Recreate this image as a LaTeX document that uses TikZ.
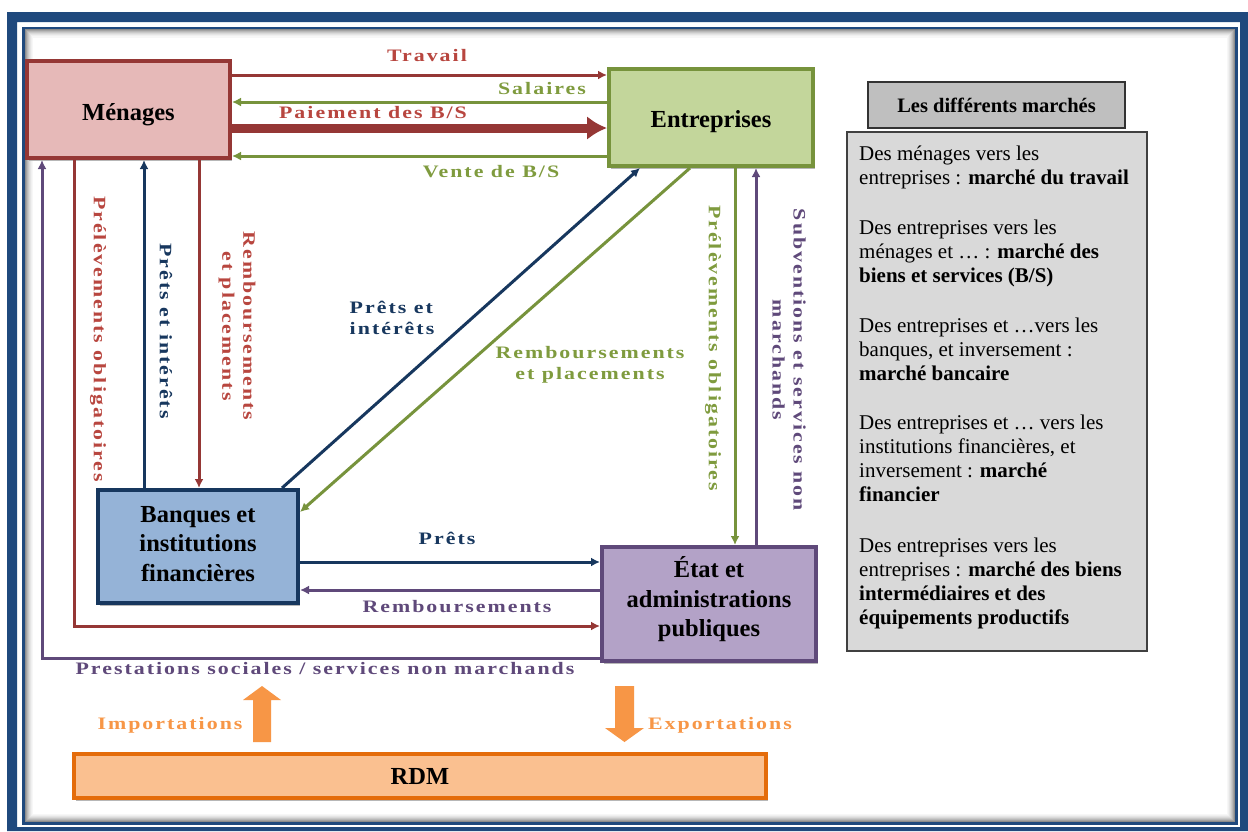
\documentclass[tikz,border=0pt]{standalone}
\usepackage{fontspec}
\setmainfont{Liberation Serif}
\newfontfamily\lblfont[FakeStretch=1.25,LetterSpace=11.5]{Liberation Serif Bold}
\usetikzlibrary{arrows.meta,shadows}
\definecolor{mred}{HTML}{953735}
\definecolor{mredfill}{HTML}{E6B9B8}
\definecolor{lred}{HTML}{B8463F}
\definecolor{egreen}{HTML}{77933C}
\definecolor{egreenfill}{HTML}{C3D69B}
\definecolor{lgreen}{HTML}{7F9B3E}
\definecolor{bnavy}{HTML}{17375E}
\definecolor{bfill}{HTML}{95B3D7}
\definecolor{epurple}{HTML}{5F497A}
\definecolor{efill}{HTML}{B3A2C7}
\definecolor{orangeb}{HTML}{E46C0A}
\definecolor{orangefill}{HTML}{FAC090}
\definecolor{orangearr}{HTML}{F79646}
\definecolor{frameblue}{HTML}{1F497D}
\definecolor{legtitle}{HTML}{BFBFBF}
\definecolor{legfill}{HTML}{D9D9D9}
\begin{document}
\begin{tikzpicture}[x=1pt,y=-1pt,
  box/.style={rectangle, line width=4pt, inner sep=0pt,
    drop shadow={shadow xshift=2pt, shadow yshift=-3pt, fill=black!35, opacity=.8}},
  boxtxt/.style={inner sep=0pt, align=center, font=\fontsize{24.5}{29.5}\selectfont\bfseries},
  arr/.style={line width=3pt, -{Latex[length=9pt,width=9pt]}},
  lbl/.style={font=\lblfont\fontsize{17.5}{21}\selectfont, inner sep=0pt, align=center},
  blockarr/.style={fill=orangearr, draw=none}
]
\useasboundingbox (0,0) rectangle (1248,831);
% frame
\fill[white] (0,0) rectangle (1248,831);
\fill[frameblue, even odd rule] (7,12) rectangle (1248,831) (17,22) rectangle (1240,827);
\draw[frameblue, line width=3pt] (23.5,28) rectangle (1236.5,823.5);
\foreach \i/\c in {0/45,1/36,2/28,3/21,4/15,5/10,6/6,7/3}
  \draw[black!\c, line width=1.1pt] (25.5+\i,30+\i) rectangle (1234.5-\i,821.5-\i);

% boxes
\node[box, fill=mredfill, draw=mred, minimum width=203, minimum height=97] (men) at (128.5,109.5) {};
\node[box, fill=egreenfill, draw=egreen, minimum width=204, minimum height=97] (ent) at (711,117.5) {};
\node[box, fill=bfill, draw=bnavy, minimum width=200, minimum height=113] (ban) at (198,546.5) {};
\node[box, fill=efill, draw=epurple, minimum width=214, minimum height=114] (etat) at (709,604) {};
\node[box, fill=orangefill, draw=orangeb, minimum width=692, minimum height=44] (rdm) at (420,776) {};
\node[boxtxt] (mentxt) at (128.5,114.5) {Ménages};
\node[boxtxt] (enttxt) at (711,121.5) {Entreprises};
\node[boxtxt] (bantxt) at (198,544) {Banques et\\institutions\\financières};
\node[boxtxt] (etattxt) at (709,599.5) {État et\\administrations\\publiques};
\node[boxtxt] (rdmtxt) at (420,776) {RDM};

% legend
\node[rectangle, draw=black!80, line width=1.5pt, fill=legtitle, minimum width=257, minimum height=46,
  font=\fontsize{20.5}{24}\selectfont\bfseries] (legt) at (996.5,105) {Les différents marchés};
\node[rectangle, draw=black!75, line width=1.5pt, fill=legfill, minimum width=300, minimum height=519] (legb) at (997,391.5) {};
\node[anchor=north west, inner sep=0pt, align=left, font=\fontsize{21}{24}\selectfont] (legtxt) at (859,146)
{Des ménages vers les\\
entreprises : \textbf{marché du travail}\\[26pt]
Des entreprises vers les\\
ménages et … : \textbf{marché des}\\
\textbf{biens et services (B/S)}\\[26pt]
Des entreprises et …vers les\\
banques, et inversement :\\
\textbf{marché bancaire}\\[25pt]
Des entreprises et … vers les\\
institutions financières, et\\
inversement : \textbf{marché}\\
\textbf{financier}\\[27pt]
Des entreprises vers les\\
entreprises : \textbf{marché des biens}\\
\textbf{intermédiaires et des}\\
\textbf{équipements productifs}};

% top connectors
\draw[arr, mred] (men.east |- 0,75) -- (ent.west |- 0,75);
\draw[arr, egreen] (ent.west |- 0,102) -- (men.east |- 0,102);
\draw[mred, line width=9pt, -{Latex[length=20pt,width=24pt]}] (men.east |- 0,128) -- (ent.west |- 0,128);
\draw[arr, egreen] (ent.west |- 0,156) -- (men.east |- 0,156);

% left verticals
\draw[arr, epurple] (etat.west |- 0,658) -| (men.south -| 42,0);
\draw[arr, mred] (men.south -| 74,0) |- (etat.west |- 0,626);
\draw[arr, bnavy] (ban.north -| 144,0) -- (men.south -| 144,0);
\draw[arr, mred] (men.south -| 199,0) -- (ban.north -| 199,0);

% diagonals
\draw[arr, bnavy] (ban.north -| 282,0) -- (ent.south -| 640,0);
\draw[arr, egreen] (ent.south -| 690,0) -- (ban.east |- 0,512);

% right verticals
\draw[arr, egreen] (ent.south -| 735,0) -- (etat.north -| 735,0);
\draw[arr, epurple] (etat.north -| 756,0) -- (ent.south -| 756,0);

% bottom horizontals
\draw[arr, bnavy] (ban.east |- 0,562) -- (etat.west |- 0,562);
\draw[arr, epurple] (etat.west |- 0,590) -- (ban.east |- 0,590);

% block arrows
\fill[blockarr] (253,742) -- (253,700) -- (243,700) -- (262,686) -- (281,700) -- (271,700) -- (271,742) -- cycle;
\fill[blockarr] (615,686) -- (615,728) -- (605,728) -- (624.5,742) -- (644,728) -- (634,728) -- (634,686) -- cycle;

% labels
\node[lbl, text=lred] (l1) at (427,56) {Travail};
\node[lbl, text=lgreen] (l2) at (542,89) {Salaires};
\node[lbl, text=lred] (l3) at (373,113) {Paiement des B/S};
\node[lbl, text=lgreen] (l4) at (491,172) {Vente de B/S};
\node[lbl, text=lred, rotate=-90] (l5) at (98,339) {Prélèvements obligatoires};
\node[lbl, text=bnavy, rotate=-90] (l6) at (166,331) {Prêts et intérêts};
\node[lbl, text=lred, rotate=-90] (l7) at (237,326) {Remboursements\\et placements};
\node[lbl, text=bnavy, align=left] (l8) at (392,318) {Prêts et\\intérêts};
\node[lbl, text=lgreen] (l9) at (590,365) {Remboursements\\et placements};
\node[lbl, text=lgreen, rotate=-90] (l10) at (713,348) {Prélèvements obligatoires};
\node[lbl, text=epurple, rotate=-90] (l11) at (789,360) {Subventions et services non\\marchands};
\node[lbl, text=bnavy] (l12) at (447,538) {Prêts};
\node[lbl, text=epurple] (l13) at (457,607) {Remboursements};
\node[lbl, text=epurple] (l14) at (325,669) {Prestations sociales / services non marchands};
\node[lbl, text=orangearr] (l15) at (170,725) {Importations};
\node[lbl, text=orangearr] (l16) at (720,725) {Exportations};
\end{tikzpicture}
\end{document}
